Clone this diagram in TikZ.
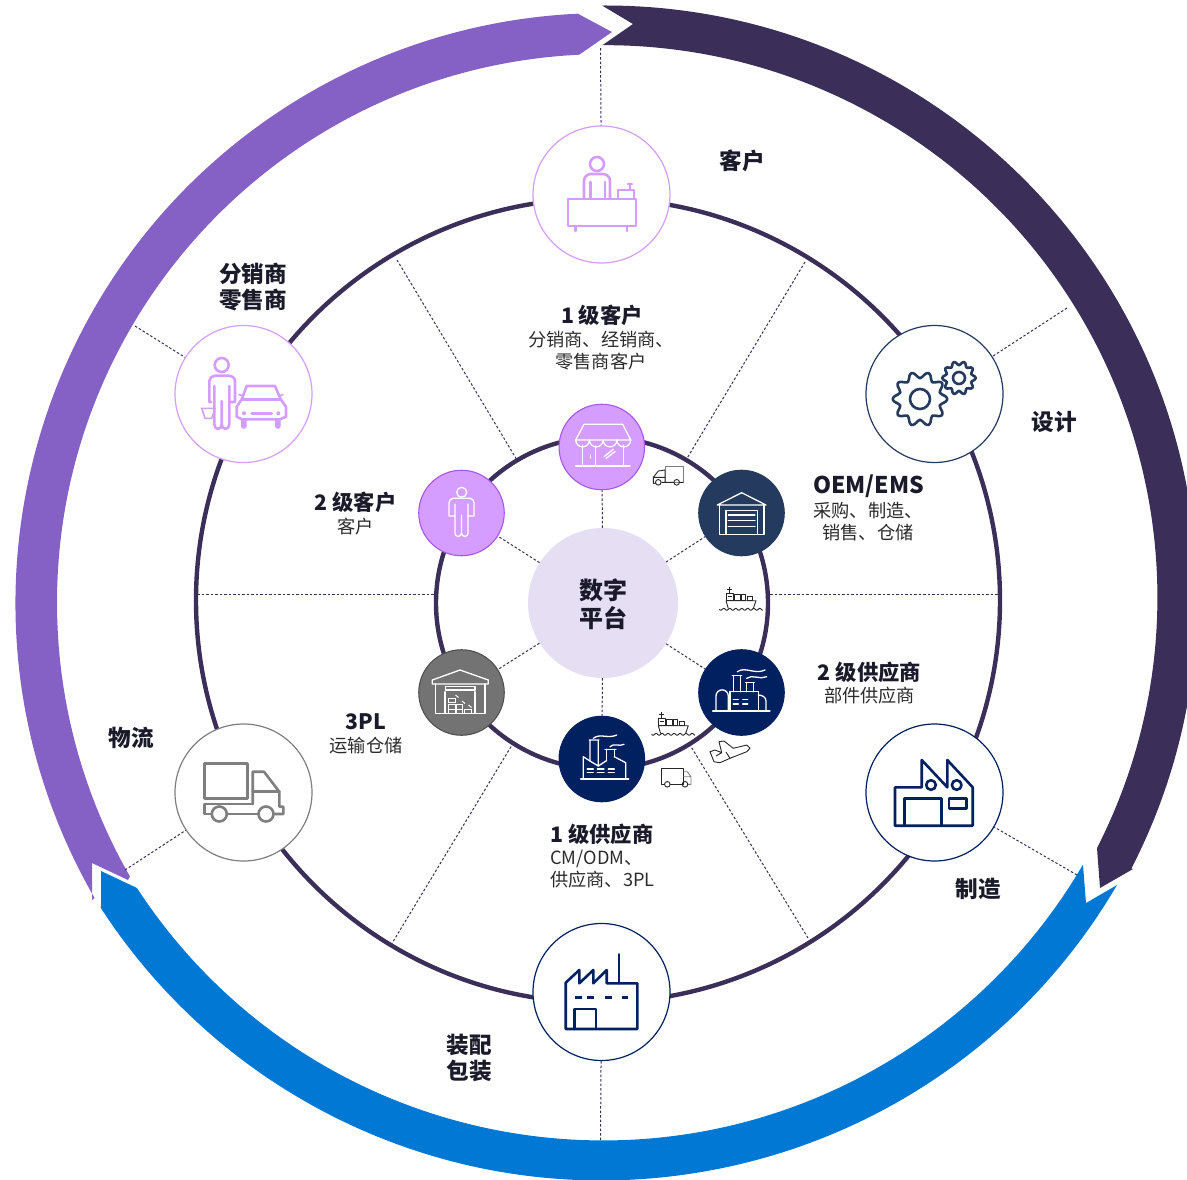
\documentclass[tikz,border=0pt]{standalone}
\usepackage{fontspec}
\setmainfont{Noto Sans CJK SC}
\definecolor{cDark}{HTML}{3B2E58}
\definecolor{cPurple}{HTML}{8661C5}
\definecolor{cBlue}{HTML}{0078D4}
\definecolor{cLilac}{HTML}{D59DFF}
\definecolor{cLilacEdge}{HTML}{A855F0}
\definecolor{cNavy}{HTML}{002060}
\definecolor{cSlate}{HTML}{243A5E}
\definecolor{cGrey}{HTML}{7F7F7F}
\definecolor{cCoreGrey}{HTML}{737373}
\definecolor{cCore}{HTML}{E6DFF4}
\definecolor{cInk}{HTML}{1A1A2A}
\definecolor{cSub}{HTML}{2B2B2B}
\tikzset{
  ringline/.style={draw=cDark,line width=4.4pt},
  spoke/.style={draw=cDark,line width=1pt,dash pattern=on 2.5pt off 2pt},
  bignode/.style={circle,minimum size=137pt,inner sep=0pt,fill=white,line width=1.2pt},
  smallnode/.style={circle,minimum size=85.5pt,inner sep=0pt,line width=1.1pt},
  ico/.style={line width=2.6pt,line join=round,line cap=round},
  wico/.style={draw=white,line width=1.3pt,line join=round,line cap=round},
  tico/.style={draw=black!85,line width=0.9pt,line join=round},
  head/.style={inner sep=0pt,align=center,text=cInk,font=\fontsize{22.6}{26.5}\selectfont\bfseries},
  subhead/.style={inner sep=0pt,align=center,text=cInk,font=\fontsize{21.3}{24}\selectfont\bfseries},
  sub/.style={inner sep=0pt,align=center,text=cSub,font=\fontsize{18.2}{22}\selectfont},
}
\newcommand\shipicon{%
  \draw[tico] (729.3,586.7)--(729.3,593.3) (727,589)--(731.6,589);
  \draw[tico] (726,593.3) rectangle (733.3,600.7) (727.5,596)--(731.8,596);
  \draw[tico] (734.5,594.5) rectangle (740,600.7) (741.5,594.5) rectangle (745.5,600.7) (747,596) rectangle (752.5,600.7);
  \draw[tico] (726,600.7)--(756,600.7)--(753.3,608.5)  (726,600.7)--(728.3,608.5);
  \draw[tico] plot[smooth,domain=0:43.4,samples=45] ({719.3+\x},{609.3+1*sin(60*\x)});
}
\begin{document}
\begin{tikzpicture}[x=1pt,y=1pt,yscale=-1]
\useasboundingbox (0,0) rectangle (1187,1179);
\clip (0,0) rectangle (1187,1179);
% outer arrows
\fill[cDark] (602,5.5) arc[start angle=-90.3,end angle=27.25,radius=592pt] -- (1133,869) -- (1100,888) -- (1097,848)
  arc[start angle=27.03,end angle=-90.3,radius=552pt] -- (633,24) -- cycle;
\fill[cPurple] (92,900) -- (94.6,898) arc[start angle=150,end angle=267.3,radius=590pt] -- (612,32) -- (579.2,54.7)
  arc[start angle=267.2,end angle=150.14,radius=549pt] -- (128,880) -- (92,863) -- cycle;
\fill[cBlue] (1117,885) arc[start angle=30.35,end angle=147.16,radius=597pt] -- (101,908) -- (101,871) -- (137,888)
  arc[start angle=146.9,end angle=30.26,radius=556pt] -- (1086,903) -- cycle;
% rings
\draw[ringline] (598,600.5) circle[radius=402pt];
\draw[ringline] (602,603) circle[radius=166pt];
% nodes
\node[bignode,draw=cLilac] (customer) at (601.5,194.5) {};
\node[bignode,draw=cSlate] (design) at (934.5,394) {};
\node[bignode,draw=cNavy] (mfg) at (934.5,792.5) {};
\node[bignode,draw=cNavy] (assembly) at (601.5,992) {};
\node[bignode,draw=cGrey] (logistics) at (243.5,792.5) {};
\node[bignode,draw=cLilac] (retail) at (243.5,394) {};
\node[circle,minimum size=150pt,inner sep=0pt,fill=cCore] (core) at (603,603) {};
\node[smallnode,fill=cLilac,draw=cLilacEdge] (store) at (601.8,447) {};
\node[smallnode,fill=cLilac,draw=cLilacEdge] (person) at (461.5,513) {};
\node[smallnode,fill=cSlate,draw=cSlate] (wh) at (741.5,513) {};
\node[smallnode,fill=cNavy,draw=cNavy] (fac2) at (741.5,692.5) {};
\node[smallnode,fill=cNavy,draw=cNavy] (fac1) at (601.8,759) {};
\node[smallnode,fill=cCoreGrey,draw=cCoreGrey!70!black] (tpl) at (461.5,692.5) {};
% free ends
\coordinate (fTop) at (600.5,48);
\coordinate (fUR) at (1067,308);
\coordinate (fLR) at (1077,875);
\coordinate (fBot) at (600.5,1140);
\coordinate (fLL) at (125,870);
\coordinate (fUL) at (135,326);
\coordinate (s1a) at (397,260); \coordinate (s1b) at (517,460);
\coordinate (s2a) at (805,262); \coordinate (s2b) at (686,460);
\coordinate (s3a) at (197,594); \coordinate (s3b) at (435,594);
\coordinate (s4a) at (770,594); \coordinate (s4b) at (1002,594);
\coordinate (s5a) at (391,945); \coordinate (s5b) at (512,745);
\coordinate (s6a) at (808,938); \coordinate (s6b) at (690,745);
% spokes
\draw[spoke] (fTop) -- (customer);
\draw[spoke] (fUR) -- (design);
\draw[spoke] (fLR) -- (mfg);
\draw[spoke] (fBot) -- (assembly);
\draw[spoke] (fLL) -- (logistics);
\draw[spoke] (fUL) -- (retail);
\draw[spoke] (s1a) -- (s1b);
\draw[spoke] (s2a) -- (s2b);
\draw[spoke] (s3a) -- (s3b);
\draw[spoke] (s4a) -- (s4b);
\draw[spoke] (s5a) -- (s5b);
\draw[spoke] (s6a) -- (s6b);
\draw[spoke] (core) -- (store);
\draw[spoke] (core) -- (person);
\draw[spoke] (core) -- (wh);
\draw[spoke] (core) -- (fac2);
\draw[spoke] (core) -- (fac1);
\draw[spoke] (core) -- (tpl);
% customer icon
\begin{scope}[ico,draw=cLilac]
\draw (597,164) circle[radius=7pt];
\draw (584,199) -- (584,181) to[out=-90,in=180] (591,174) -- (603,174) to[out=0,in=-90] (610,181) -- (610,199);
\draw (590.5,182) -- (590.5,199) (605,182) -- (605,199);
\draw (568,199) rectangle (636,226);
\draw (575.5,226) -- (575.5,231) (627,226) -- (627,231);
\draw (618,199) -- (618,190) -- (634,190) -- (634,199) (630,190) -- (630,184) (628,184) -- (632,184);
\end{scope}
% gears
\begin{scope}[ico,draw=cSlate]
\draw[shift={(920,399)}] plot[domain=0:354,samples=60,smooth cycle] (\x:{24+3.3*cos(10*\x)});
\draw (920,399) circle[radius=10pt];
\draw[shift={(959,378)}] plot[domain=0:354,samples=60,smooth cycle] (\x:{14.8+2*cos(10*\x)});
\draw (959,378) circle[radius=6pt];
\end{scope}
% manufacturing icon
\begin{scope}[ico,draw=cNavy]
\draw (895,787.3) -- (895,825.7) -- (972.7,825.7) -- (972.7,787.3) -- (947.3,760) -- (947.3,787.3) -- (921.7,760) -- (921.7,787.3) -- cycle;
\draw (904.3,825.7) -- (904.3,798.3) -- (941.7,798.3) -- (941.7,825.7);
\draw (949,798.3) rectangle (966.7,808.3);
\draw (931,785) circle[radius=4.8pt] (956.7,785) circle[radius=4.8pt];
\end{scope}
% assembly icon
\begin{scope}[ico,draw=cNavy]
\draw (565.7,982.7) -- (565.7,1029) -- (637.3,1029) -- (637.3,983.3) -- (606.7,983.3) -- (606.7,970) -- (593.3,983.3) -- (593.3,970) -- (579.3,983.3) -- (579.3,970) -- cycle;
\draw (619,983.3) -- (619,954.3);
\draw[line cap=butt] (575,997.3) -- (581.5,997.3) (587,997.3) -- (593.5,997.3) (605,997.3) -- (611.5,997.3) (621.5,997.3) -- (628,997.3);
\draw (574.3,1029) -- (574.3,1009) -- (596,1009) -- (596,1029);
\end{scope}
% logistics truck
\begin{scope}[ico,draw=cGrey]
\draw (204.3,763.3) rectangle (247.3,798.3);
\draw (252.7,804) -- (252.7,771.7) -- (264,771.7) -- (279.3,791.7) -- (279.3,806.7) -- (283.3,806.7) -- (283.3,814) -- (273.3,814);
\draw (258.7,814) -- (226.7,814) (211.7,814) -- (204.3,814) -- (204.3,804) -- (252.7,804);
\draw (252.7,791.7) -- (279.3,791.7);
\draw (219.3,814) circle[radius=7.5pt] (266,814) circle[radius=7.5pt];
\end{scope}
% retail icon
\begin{scope}[ico,draw=cLilac]
\draw (221.7,365) circle[radius=7pt];
\draw (211,402) -- (209.3,402) -- (209.3,381) to[out=-90,in=180] (215,375.7) -- (228.3,375.7) to[out=0,in=-90] (235,381) -- (235,402) -- (230.3,402);
\draw (214.3,386) -- (214.3,424) to[out=90,in=180] (218,429) to[out=0,in=90] (221.7,424) -- (221.7,401);
\draw (229.3,386) -- (229.3,424) to[out=90,in=0] (225.5,429) to[out=180,in=90] (221.7,424);
\draw[line width=1.6pt] (201.7,408.3) -- (215,408.3) -- (211.7,418.3) -- (205,418.3) -- cycle;
\draw (246.7,386) -- (275,386) -- (280.7,399.3) -- (286,406.7) -- (286,416.7) -- (280,419.3) -- (241.7,419.3) -- (236.7,416.7) -- (236.7,406.7) -- (241.7,399.3) -- cycle;
\draw (241.7,399.3) -- (280.7,399.3);
\fill[cLilac] (241,419) rectangle (246.7,426) (275,419) rectangle (280.7,426);
\fill[cLilac] (243.8,426) circle[radius=2.85pt] (277.8,426) circle[radius=2.85pt];
\fill[cLilac] (244,413.3) circle[radius=2pt] (278.3,413.3) circle[radius=2pt];
\draw (251.7,413.3) -- (271.7,413.3);
\draw[line width=1.6pt] (241.7,395.5) -- (239,394.5) (280.7,395.5) -- (283,394.5);
\end{scope}
% store icon
\draw[wico] (575.7,466) -- (630,466);
\draw[wico] (584,424.3) -- (622.7,424.3) -- (630.7,440) -- (575.7,440) -- cycle;
\draw[wico] (575.7,440) arc[start angle=180,end angle=0,radius=6.875pt] arc[start angle=180,end angle=0,radius=6.875pt] arc[start angle=180,end angle=0,radius=6.875pt] arc[start angle=180,end angle=0,radius=6.875pt];
\draw[wico] (582.7,445) -- (582.7,466) (595.7,446) -- (595.7,466) (623.3,445) -- (623.3,466);
\draw[wico] (590.7,455) -- (590.7,458);
\draw[wico] (604,456.7) -- (613.3,449.3) (606,458.5) -- (615,451.5);
% person icon
\draw[wico] (461.7,492.3) circle[radius=5pt];
\draw[wico] (455,516) -- (449,516) -- (449,503) to[out=-90,in=180] (453,498.3) -- (470,498.3) to[out=0,in=-90] (474,503) -- (474,516) -- (468,516);
\draw[wico] (455,504) -- (455,533) to[out=90,in=180] (458,536.5) to[out=0,in=90] (461.5,533) -- (461.5,515);
\draw[wico] (468,504) -- (468,533) to[out=90,in=0] (465,536.5) to[out=180,in=90] (461.5,533);
% warehouse icon
\draw[wico] (717.3,505) -- (741.7,492.7) -- (766,505) -- cycle;
\draw[wico] (719.3,505) -- (719.3,534.3) -- (764,534.3) -- (764,505);
\draw[wico] (726,534.3) -- (726,510.7) -- (757.3,510.7) -- (757.3,534.3);
\draw[wico] (728.3,515) -- (755,515) (728.3,520.7) -- (755,520.7) (728.3,526.7) -- (755,526.7);
% factory 2 icon
\draw[wico] (712.7,711) -- (770,711);
\draw[wico] (716,711) -- (716,696) arc[start angle=180,end angle=360,radius=6.15pt] -- (728.3,711);
\draw[wico] (732.3,675.7) -- (741.7,675.7) (733.3,675.7) -- (733.3,691.7) (740.7,675.7) -- (740.7,691.7);
\draw[wico] (745.7,682.7) -- (754.3,682.7) (746.7,682.7) -- (746.7,691.7) (753.3,682.7) -- (753.3,691.7);
\draw[wico] (730,711) -- (730,691.7) -- (758.3,691.7) -- (758.3,711);
\draw[wico] (758.3,695) to[out=0,in=-90] (766,701) -- (766,711);
\draw[wico] (733.3,699.3) -- (738.3,699.3) (742.7,699.3) -- (747.7,699.3) (733.3,704) -- (738.3,704) (742.7,704) -- (747.7,704);
\draw[wico] (737.3,671.7) .. controls (745,666) and (755,675) .. (765,670);
\draw[wico] (746.7,678.3) .. controls (752,674) and (760,680) .. (766.7,676.7);
% factory 1 icon
\draw[wico] (580.7,779) -- (628.7,779);
\draw[wico] (583.3,779) -- (583.3,756.7) -- (590,761) (598.3,766) -- (606.7,760.5) (614.3,756.7) -- (625.7,762.7) -- (625.7,779);
\draw[wico] (589.3,740) -- (599,740) (590,740) -- (590,761) -- (598.3,766) -- (598.3,740);
\draw[wico] (605,749.3) -- (616,749.3) (606.7,749.3) -- (606.7,760.5) (614.3,749.3) -- (614.3,756.7);
\draw[wico] (587.3,769) -- (593.3,769) (597.3,769) -- (604,769) (608.3,769) -- (614.3,769) (587.3,772.3) -- (593.3,772.3) (597.3,772.3) -- (604,772.3) (608.3,772.3) -- (614.3,772.3);
\draw[wico] (593.3,738.3) .. controls (600,733) and (608,739) .. (616.7,735);
\draw[wico] (610,746.7) .. controls (614,742.5) and (619,747) .. (624,744.3);
% 3PL icon
\draw[wico] (432.3,684) -- (432.3,680) -- (460,670) -- (488.3,680) -- (488.3,684) -- cycle;
\draw[wico] (435.7,684) -- (435.7,713.3) -- (485,713.3) -- (485,684);
\draw[wico] (445.7,686.7) rectangle (475,690);
\draw[wico] (445,691.7) -- (445,713.3) (475,691.7) -- (475,713.3);
\begin{scope}[line width=1pt,draw=white]
\draw (448.3,698.3) rectangle (455,702.7);
\draw (448.3,704.5) rectangle (455,709) (456,704.5) rectangle (462.7,709);
\draw (448.3,709) rectangle (455,713.3) (456,709) rectangle (462.7,713.3) (464.3,709) rectangle (471,713.3);
\draw (455.5,695) -- (458.5,697.5) (462,701) -- (465,703.5) (468.5,705) -- (471.5,707.5);
\end{scope}
% transport icons
\draw[tico,draw=cGrey] (665,466.7) rectangle (683.3,482.3);
\draw[tico] (665,482.3) -- (661.5,482.3) (655.5,483.3) -- (653.3,483.3) -- (653.3,477.3) -- (658.3,471) -- (665,470) -- (665,482) (653.3,477.3) -- (665,477.3) (661.5,482.3) -- (673.7,482.3) (679.7,482.3) -- (683.3,482.3);
\draw[tico] (658.3,482.3) circle[radius=2.8pt] (676.7,482.3) circle[radius=2.8pt];
\draw[tico] (664.4,784.3) -- (661.7,784.3) -- (661.7,768.3) -- (683.3,768.3) -- (683.3,784.3) -- (670.2,784.3);
\draw[tico,draw=cGrey] (683.3,771.7) -- (687.3,771.7) -- (691,776.7) -- (691,784.3) -- (688,784.3) (683.3,776.7) -- (691,776.7);
\draw[tico] (667.3,784.3) circle[radius=2.8pt] (685,784.3) circle[radius=2.8pt];
\shipicon
\begin{scope}[shift={(-67.7,125)}]
\shipicon
\end{scope}
\draw[tico] (710,751.7) -- (715,750) -- (721.7,752.7) -- (719,741.7) -- (724,741) -- (733.3,748.3) -- (746.7,745) -- (750,748.3) -- (746.7,751.7) -- (730,758.3) -- (720,762.7) -- (714,761.7) -- cycle;
\draw[tico] (721.7,752.7) -- (716,756) (730,758.3) -- (726,752);
% labels
\node[head] (lCustomer) at (742.5,160.5) {客户};
\node[head] (lDesign) at (1054,422) {设计};
\node[head] (lMfg) at (978,888.5) {制造};
\node[head] (lAssembly) at (469,1058) {装配\\包装};
\node[head] (lLogistics) at (131,737.5) {物流};
\node[head] (lRetail) at (253,287) {分销商\\零售商};
\node[inner sep=0pt,align=center,text=cInk,font=\fontsize{24}{28}\selectfont\bfseries] (lCore) at (603,604) {数字\\平台};
\node[subhead] (t1) at (602,315) {1 级客户};
\node[sub] (t1s) at (601,351) {分销商、经销商、\\零售商客户};
\node[subhead,font=\fontsize{23}{24}\selectfont\bfseries] (t2) at (868.5,486) {OEM/EMS};
\node[sub] (t2s) at (868,522) {采购、制造、\\销售、仓储};
\node[subhead] (t3) at (869.5,672.5) {2 级供应商};
\node[sub] (t3s) at (869.5,696) {部件供应商};
\node[subhead] (t4) at (602,834.5) {1 级供应商};
\node[sub,align=left,anchor=west] (t4s) at (550,869) {CM/ODM、\\供应商、3PL};
\node[subhead] (t5) at (366,721.5) {3PL};
\node[sub] (t5s) at (366,746) {运输仓储};
\node[subhead] (t6) at (355.5,502.5) {2 级客户};
\node[sub] (t6s) at (355.5,527) {客户};
\end{tikzpicture}
\end{document}
